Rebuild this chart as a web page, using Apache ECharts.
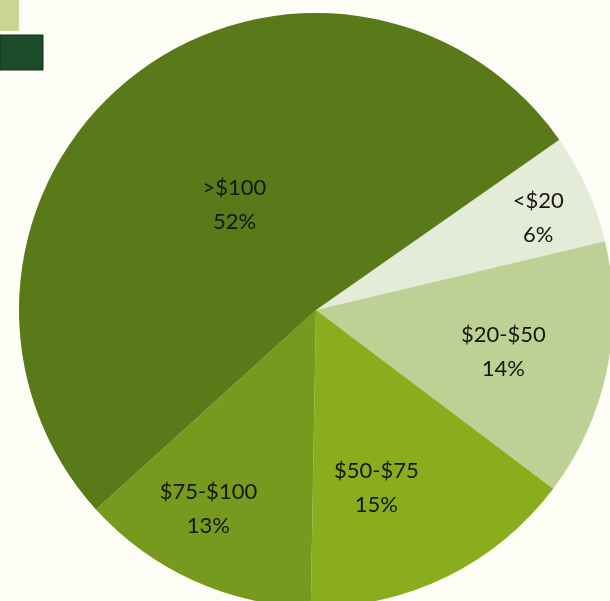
<!DOCTYPE html>
<html>
<head>
<meta charset="utf-8">
<script src="https://cdn.jsdelivr.net/npm/echarts@6/dist/echarts.min.js"></script>
<style>
  html, body { margin: 0; padding: 0; background: #fdfdf6; }
  #chart { width: 610px; height: 601px; }
</style>
</head>
<body>
<div id="chart"></div>
<script>
// Spending bands and their share of purchases (%)
const categories = ['<$20', '$20-$50', '$50-$75', '$75-$100', '>$100'];
const shares = [6, 14, 15, 13, 52];

// Slice fills, in category order
const sliceColors = ['#e4ecd9', '#bdd194', '#89ad1d', '#769a1d', '#587a18'];
// Label nudges from the default inside position, in pixels
const labelOffsets = [[84, -30], [39, 11], [-6, 42], [-45, 61], [13, 13]];

const chart = echarts.init(document.getElementById('chart'), null, { renderer: 'canvas' });

chart.setOption({
  backgroundColor: '#fdfdf6',
  animation: false,
  graphic: [
    { type: 'rect', shape: { x: 0, y: 0, width: 19, height: 31 },
      style: { fill: '#c9d694' } },
    { type: 'rect', shape: { x: 0, y: 35, width: 43, height: 35 },
      style: { fill: '#1c4c29', stroke: '#0f2e18', lineWidth: 1 } }
  ],
  series: [{
    type: 'pie',
    center: [316, 310],
    radius: 297,
    startAngle: 35,
    clockwise: true,
    avoidLabelOverlap: false,
    label: {
      show: true,
      position: 'inside',
      formatter: '{b}\n{c}%',
      fontFamily: 'Lato, "Open Sans", sans-serif',
      fontSize: 22,
      lineHeight: 34,
      color: '#16160f'
    },
    labelLine: { show: false },
    emphasis: { disabled: true },
    itemStyle: { borderWidth: 0 },
    data: categories.map((name, i) => ({
      name: name,
      value: shares[i],
      itemStyle: { color: sliceColors[i] },
      label: { offset: labelOffsets[i] }
    }))
  }]
});
</script>
</body>
</html>
